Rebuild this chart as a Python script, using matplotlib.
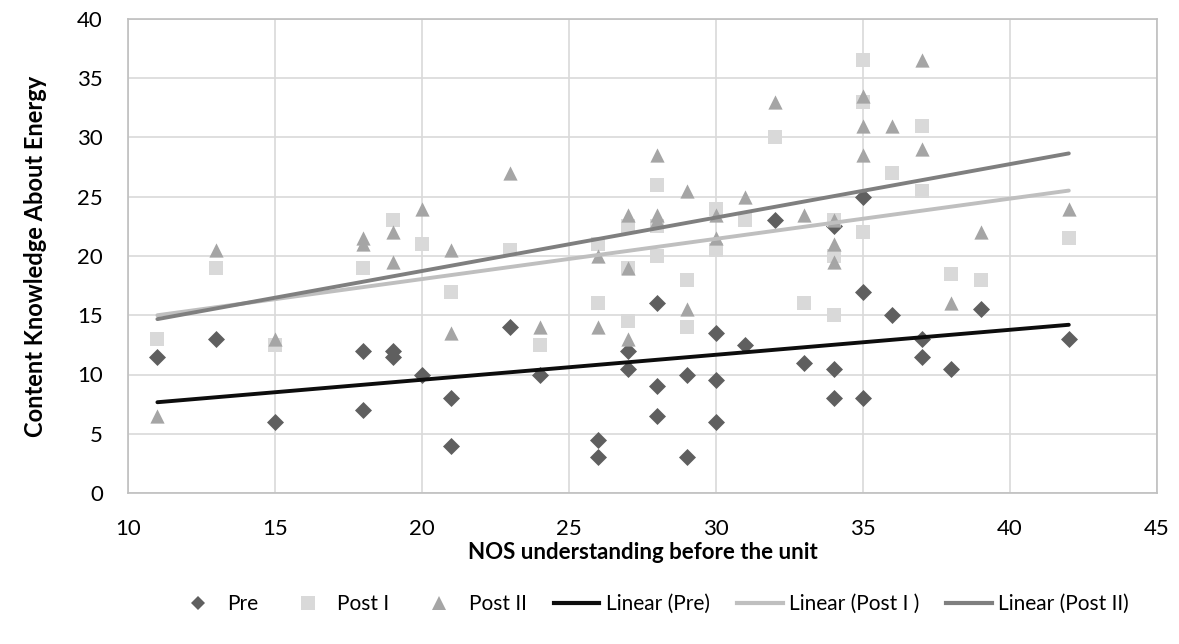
import numpy as np
import matplotlib
matplotlib.use("Agg")
import matplotlib.pyplot as plt
from matplotlib.lines import Line2D

plt.rcParams['font.family'] = ['Lato', 'DejaVu Sans']

# NOS understanding (x) and knowledge scores (y) per series
pre_x = [11, 13, 15, 18, 18, 19, 19, 20, 21, 21, 23, 24, 26, 26, 27, 27,
         28, 28, 28, 29, 29, 30, 30, 30, 31, 32, 33, 34, 34, 34, 35, 35, 35,
         36, 37, 37, 38, 39, 42]
pre_y = [11.5, 13, 6, 12, 7, 12, 11.5, 10, 8, 4, 14, 10, 4.5, 3, 12, 10.5,
         16, 9, 6.5, 10, 3, 13.5, 9.5, 6, 12.5, 23, 11, 22.5, 10.5, 8, 25, 17, 8,
         15, 13, 11.5, 10.5, 15.5, 13]

post1_x = [11, 13, 15, 18, 19, 20, 21, 23, 24, 26, 26, 27, 27, 27,
           28, 28, 28, 29, 29, 30, 30, 31, 32, 33, 34, 34, 34, 35, 35, 35,
           36, 37, 37, 38, 39, 42]
post1_y = [13, 19, 12.5, 19, 23, 21, 17, 20.5, 12.5, 21, 16, 22.5, 19, 14.5,
           26, 22.5, 20, 18, 14, 24, 20.5, 23, 30, 16, 23, 20, 15, 36.5, 33, 22,
           27, 31, 25.5, 18.5, 18, 21.5]

post2_x = [11, 13, 15, 18, 18, 19, 19, 20, 21, 21, 23, 24, 26, 26, 27, 27, 27,
           28, 28, 28, 29, 29, 30, 30, 31, 32, 33, 34, 34, 34, 35, 35, 35,
           36, 37, 37, 38, 39, 42]
post2_y = [6.5, 20.5, 13, 21.5, 21, 22, 19.5, 24, 20.5, 13.5, 27, 14, 20, 14, 23.5, 19, 13,
           28.5, 23.5, 23, 25.5, 15.5, 23.5, 21.5, 25, 33, 23.5, 23, 21, 19.5, 33.5, 31, 28.5,
           31, 36.5, 29, 16, 22, 24]

x_ticks = [10, 15, 20, 25, 30, 35, 40, 45]
y_ticks = [0, 5, 10, 15, 20, 25, 30, 35, 40]

c_pre, c_p1, c_p2 = '#5f5f5f', '#d9d9d9', '#a5a5a5'
c_lpre, c_lp1, c_lp2 = '#0d0d0d', '#bfbfbf', '#7f7f7f'

fig = plt.figure(figsize=(11.79, 6.44), dpi=100)
ax = fig.add_axes([128/1179, 1-493/644, (1157-128)/1179, (493-19)/644])

ax.scatter(pre_x, pre_y, marker='D', s=75, color=c_pre, zorder=3, linewidths=0)
ax.scatter(post1_x, post1_y, marker='s', s=100, color=c_p1, zorder=3, linewidths=0)
ax.scatter(post2_x, post2_y, marker='^', s=105, color=c_p2, zorder=3, linewidths=0)

def trend(xs, ys):
    m, b = np.polyfit(xs, ys, 1)
    xr = np.array([min(xs), max(xs)])
    return xr, m * xr + b

for xs, ys, c in [(pre_x, pre_y, c_lpre), (post1_x, post1_y, c_lp1), (post2_x, post2_y, c_lp2)]:
    xr, yr = trend(xs, ys)
    ax.plot(xr, yr, color=c, lw=2.8, solid_capstyle='round', zorder=4)

ax.set_xlim(10, 45)
ax.set_ylim(0, 40)
ax.set_xticks(x_ticks)
ax.set_yticks(y_ticks)
ax.tick_params(axis='x', length=0, labelsize=16, pad=19)
ax.tick_params(axis='y', length=0, labelsize=16, pad=18)
ax.grid(True, color='#d9d9d9', lw=1.2)
ax.set_axisbelow(True)
for s in ax.spines.values():
    s.set_color('#bfbfbf')
    s.set_linewidth(1.2)

ax.set_xlabel('NOS understanding before the unit', fontsize=16, fontweight='bold', labelpad=2)
ax.set_ylabel('Content Knowledge About Energy', fontsize=17, fontweight='bold', labelpad=22)

handles = [
    Line2D([], [], ls='none', marker='D', ms=7.5, color=c_pre, mew=0),
    Line2D([], [], ls='none', marker='s', ms=10, color=c_p1, mew=0),
    Line2D([], [], ls='none', marker='^', ms=10, color=c_p2, mew=0),
    Line2D([], [], color=c_lpre, lw=3),
    Line2D([], [], color=c_lp1, lw=3),
    Line2D([], [], color=c_lp2, lw=3),
]
labels = ['Pre', 'Post I', 'Post II', 'Linear (Pre)', 'Linear (Post I )', 'Linear (Post II)']
fig.legend(handles, labels, loc='center', bbox_to_anchor=(652/1179, 1-604/644), ncol=6,
           frameon=False, fontsize=15, handlelength=2.2, handletextpad=0.3, columnspacing=1.3)

fig.savefig('out.png', dpi=100)
